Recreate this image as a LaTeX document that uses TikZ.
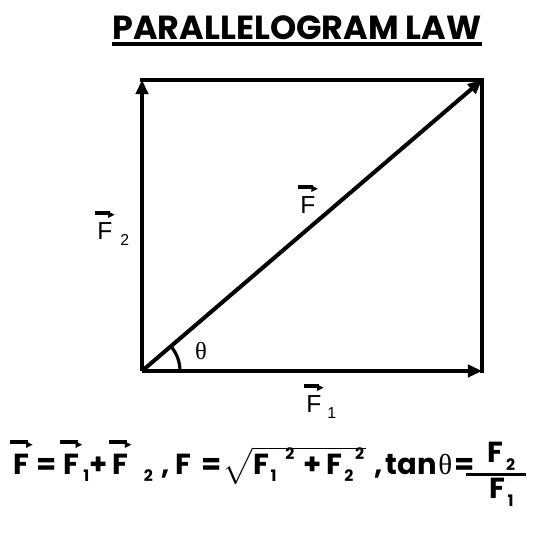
\documentclass[tikz,border=0pt]{standalone}
\usepackage{amsmath}
\usepackage{fontspec}
\setmainfont{Liberation Sans}
\newfontfamily\comicfont{Poppins}
\newfontfamily\seriffont{Liberation Serif}
\newfontfamily\symfont{DejaVu Sans}
\usepackage{tikz}
\usetikzlibrary{arrows.meta,positioning,calc}

% bold arrow set over a letter
\newcommand{\arrowbar}{\mbox{\rule[0.11em]{0.62em}{0.15em}\kern-0.08em{\symfont\fontsize{5}{5}\selectfont ▶}}}
\newcommand{\vF}[1]{$\overset{\arrowbar}{\mbox{#1}}$}
\newcommand{\sub}[2][1.5pt]{\raisebox{-0.45ex}{\kern#1\fontsize{9}{9}\selectfont #2}}
\newcommand{\sups}[2][3pt]{\smash{\raisebox{0.9ex}{\kern#1\fontsize{9}{9}\selectfont #2}}}

\begin{document}
\begin{tikzpicture}[
      x=0.02cm, y=-0.02cm,
      side/.style={line width=2.3pt},
      vec/.style={side, -{Triangle[length=8pt,width=7pt]}},
      lab/.style={font=\fontsize{14}{16}\selectfont, inner sep=1pt},
      formula/.style={font=\comicfont\bfseries\fontsize{16.5}{18}\selectfont, inner sep=0pt}
    ]
    \useasboundingbox (0,0) rectangle (542,538);
    % corners of the parallelogram
    \coordinate (O) at (142,371);
    \coordinate (A) at (482,371);
    \coordinate (B) at (142,80);
    \coordinate (C) at (482,80);
    \node[font=\comicfont\bfseries\fontsize{19}{24}\selectfont, inner sep=0pt, anchor=base] (title) at (297,39)
      {PARALLELOGRAM LAW};
    \draw[line width=2.3pt] ($(title.base west)+(0,5)$) -- ($(title.base east)+(0,5)$);
    \draw[side, line cap=rect] (B) -- (C) -- (A);
    \draw[vec] (O) -- (B);
    \draw[vec] (O) -- (A);
    \draw[vec] (O) -- (C);
    % angle mark
    \draw[line width=1.8pt] ($(O)+(38,0)$) arc[start angle=0, end angle=-40.6, radius=38];
    \node[lab] (theta) at (201,351) {\seriffont θ};
    \node[lab] (F) at (308,198) {\vF{F}};
    \node[lab] (F2) at (112,227) {\vF{F}\sub[3pt]{2}};
    \node[lab] (F1) at (320,400) {\vF{F}\sub[2pt]{1}};
    \node[formula, anchor=base west] (law) at (10,474)
      {\vF{F}\kern2pt=\kern2pt\vF{F}\sub[0.5pt]{1}+\kern1pt\vF{F}\sub[7pt]{2}\kern5pt,\kern3pt F\kern6pt=\kern0.5pt$\sqrt{\mbox{F\sub[1pt]{1}\sups[5pt]{2}\kern5pt+\kern3pt F\sub[1pt]{2}\sups[1pt]{2}\kern1pt}}$\kern5pt,\kern1.5pt tan\kern1pt{\seriffont\mdseries θ}\kern1pt=};
    \node[formula, anchor=base] (ratio) at (496,482)
      {$\genfrac{}{}{1.6pt}{1}{\mbox{\kern12pt F\sub{2}\kern6pt}}{\mbox{\kern12pt F\sub{1}\kern6pt}}$};
  \end{tikzpicture}
\end{document}
